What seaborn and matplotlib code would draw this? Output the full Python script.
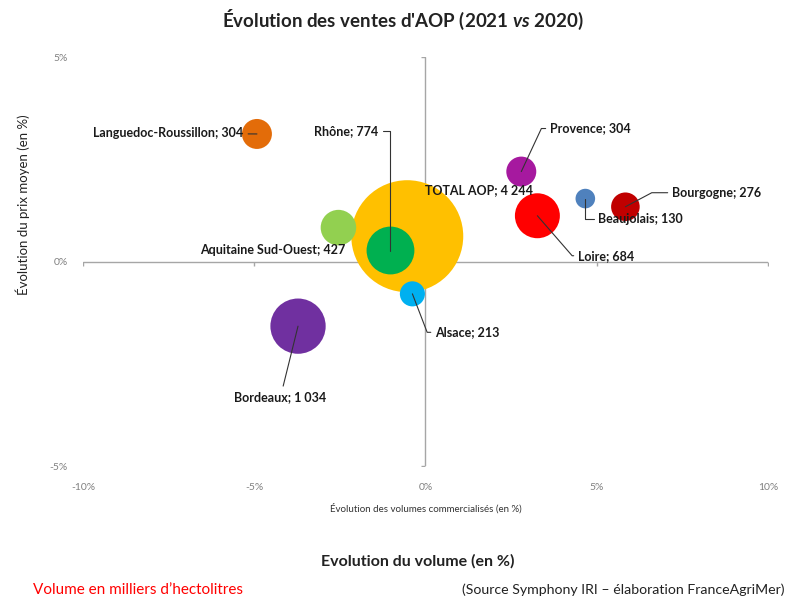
import pandas as pd
import matplotlib
matplotlib.use('Agg')
import matplotlib.pyplot as plt
import seaborn as sns

# data (% change in volume, % change in mean price, volume in k hl)
regions = ['TOTAL AOP', 'Languedoc-Roussillon', 'Rhône', 'Aquitaine Sud-Ouest', 'Alsace',
           'Bordeaux', 'Provence', 'Loire', 'Beaujolais', 'Bourgogne']
volume_change = [-0.53, -4.92, -1.02, -2.54, -0.38, -3.72, 2.80, 3.27, 4.67, 5.84]
price_change = [0.62, 3.12, 0.27, 0.83, -0.79, -1.58, 2.20, 1.12, 1.54, 1.34]
volumes = [4244, 304, 774, 427, 213, 1034, 304, 684, 130, 276]
colors = ['#FFC000', '#E36C09', '#00B050', '#92D050', '#00B0F0',
          '#7030A0', '#A6199F', '#FF0000', '#4F81BD', '#C00000']
ticks_x = [-10, -5, 0, 5, 10]
ticks_y = [-5, 0, 5]

df = pd.DataFrame({'region': regions, 'dx': volume_change, 'dy': price_change, 'vol': volumes})

sns.set_style('white')
plt.rcParams['font.family'] = ['Lato', 'DejaVu Sans']
plt.rcParams['mathtext.fontset'] = 'custom'
plt.rcParams['mathtext.rm'] = 'Lato:bold'
plt.rcParams['mathtext.it'] = 'Lato:italic:bold'

fig = plt.figure(figsize=(8.01, 5.97), dpi=100)
ax = fig.add_axes([0.1036, 0.2194, 0.855, 0.685])

sns.scatterplot(data=df, x='dx', y='dy', hue='region', palette=dict(zip(regions, colors)),
                size='vol', sizes=(0, 6500), size_norm=(0, 4244), linewidth=0,
                legend=False, ax=ax, zorder=2)

ax.set_xlim(-10, 10)
ax.set_ylim(-5, 5)
for s in ax.spines.values():
    s.set_visible(False)

# axes crossing at zero, with small tick marks
ax.axhline(0, color='#A6A6A6', lw=1, zorder=1)
ax.axvline(0, color='#A6A6A6', lw=1, zorder=1)
ax.plot(ticks_x, [0] * len(ticks_x), ls='none', marker=3, ms=3, color='#A6A6A6', zorder=1)
ax.plot([0] * len(ticks_y), ticks_y, ls='none', marker=0, ms=3, color='#A6A6A6', zorder=1)

ax.set_xticks(ticks_x)
ax.set_xticklabels([f'{t}%' for t in ticks_x])
ax.set_yticks(ticks_y)
ax.set_yticklabels([f'{t}%' for t in ticks_y])
ax.tick_params(length=0, labelsize=7.5, labelcolor='#808080')
ax.tick_params(axis='x', pad=12)
ax.tick_params(axis='y', pad=11)

ax.set_xlabel('Évolution des volumes commercialisés (en %)', fontsize=7, labelpad=8, color='#333333')
ax.set_ylabel('Évolution du prix moyen (en %)', fontsize=9.5, color='#222222')
ax.yaxis.set_label_coords(-0.078, 0.638)

# labels: offset in points, alignment, connector
label_style = {
    'TOTAL AOP':            ((13, 33.5), 'left', None),
    'Languedoc-Roussillon': ((-9.7, 0.4), 'right', 'arc3,rad=0'),
    'Rhône':                ((-8.6, 85.7), 'right', 'angle,angleA=0,angleB=90,rad=0'),
    'Aquitaine Sud-Ouest':  ((5, -15.8), 'right', None),
    'Alsace':               ((16.6, -27.7), 'left', 'angle,angleA=0,angleB=-69,rad=0'),
    'Bordeaux':             ((-12.6, -50.8), 'center', 'arc3,rad=0'),
    'Provence':             ((20.9, 31), 'left', 'angle,angleA=0,angleB=65,rad=0'),
    'Loire':                ((29.5, -28.8), 'left', 'angle,angleA=0,angleB=-49,rad=0'),
    'Beaujolais':           ((9.4, -14.4), 'left', 'angle,angleA=0,angleB=90,rad=0'),
    'Bourgogne':            ((33.8, 10.1), 'left', 'angle,angleA=0,angleB=28,rad=0'),
}
for r, x, y, v in zip(regions, volume_change, price_change, volumes):
    off, ha, conn = label_style[r]
    txt = f"{r}; {v:,}".replace(',', ' ')
    arrow = None
    if conn:
        arrow = dict(arrowstyle='-', color='#333333', lw=0.8, connectionstyle=conn,
                     shrinkA=1, shrinkB=0)
    ax.annotate(txt, xy=(x, y), xytext=off, textcoords='offset points', ha=ha, va='center',
                fontsize=9, fontweight='bold', color='#1a1a1a', arrowprops=arrow, zorder=3)

fig.text(0.503, 0.966, "Évolution des ventes d'AOP (2021 $\\it{vs}$ 2020)", ha='center', va='center',
         fontsize=13.5, fontweight='bold', color='#222222')
fig.text(0.522, 0.059, 'Evolution du volume (en %)', ha='center', va='center',
         fontsize=11.5, fontweight='bold', color='#222222')
fig.text(0.041, 0.012, "Volume en milliers d\u2019hectolitres", ha='left', va='center',
         fontsize=11, color='#FF0000')
fig.text(0.98, 0.012, '(Source Symphony IRI \u2013 élaboration FranceAgriMer)', ha='right', va='center',
         fontsize=10.2, color='#222222')

fig.savefig('out.png', dpi=100)
